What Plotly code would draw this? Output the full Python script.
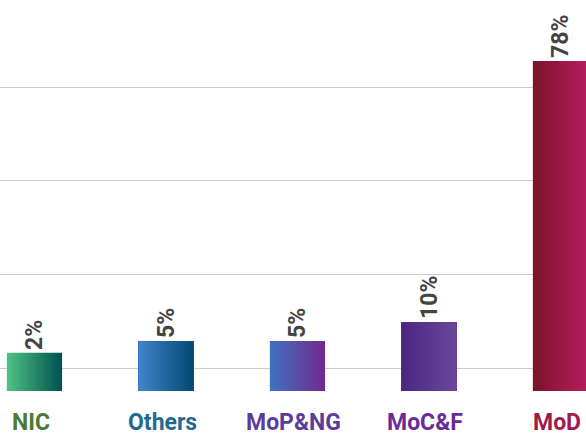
import plotly.graph_objects as go

categories = ["NIC", "Others", "MoP&NG", "MoC&F", "MoD"]
shares = [2, 5, 5, 10, 78]
share_labels = ["2%", "5%", "5%", "10%", "78%"]
label_colors = ["#4a7a36", "#1f6a8f", "#5a3d9b", "#6a2a98", "#a01a4e"]
grad_start = ["#4fc384", "#4285cc", "#3f72c0", "#4a2682", "#7a1428"]
grad_end = ["#005150", "#004870", "#722890", "#6a469a", "#b81c5e"]
mid_colors = ["#27886a", "#21669e", "#584da8", "#5a368e", "#991843"]

BASE = -7.94
W = 0.42
xs = list(range(len(categories)))

fig = go.Figure()
fig.add_trace(go.Bar(
    x=xs, y=[s - BASE for s in shares], base=BASE, width=W,
    marker=dict(color=mid_colors, line=dict(width=0)),
    text=share_labels, textposition="outside", textangle=-90,
    constraintext="none",
    textfont=dict(family="Roboto", size=23, color="#444444", weight=700),
    cliponaxis=False, showlegend=False, hoverinfo="skip",
))
for i, s in enumerate(shares):
    fig.add_trace(go.Scatter(
        x=[i - W / 2, i + W / 2, i + W / 2, i - W / 2, i - W / 2],
        y=[BASE, BASE, s, s, BASE],
        mode="lines", line=dict(width=0), fill="toself",
        fillgradient=dict(type="horizontal",
                          colorscale=[[0, grad_start[i]], [1, grad_end[i]]]),
        showlegend=False, hoverinfo="skip",
    ))

annotations = [
    dict(x=i, y=0, xref="x", yref="paper", text=t, showarrow=False,
         xanchor="center", yanchor="middle", yshift=-31, xshift=-3.5,
         font=dict(family="Roboto", size=23, color=c, weight=700))
    for i, (t, c) in enumerate(zip(categories, label_colors))
]

fig.update_layout(
    width=586, height=437,
    margin=dict(l=0, r=0, t=10, b=46),
    paper_bgcolor="white", plot_bgcolor="white",
    xaxis=dict(range=[-0.262, 4.194], showticklabels=False, automargin=False,
               showgrid=False, zeroline=False, showline=False, ticks=""),
    yaxis=dict(range=[BASE, 91.3], tick0=-2, dtick=24.4, showticklabels=False,
               automargin=False,
               showgrid=True, gridcolor="#cccccc", gridwidth=1,
               zeroline=False, showline=False),
    annotations=annotations,
    bargap=0,
)

fig.write_html("out.html", config={"displayModeBar": False},
               post_script="document.body.style.margin='0';document.body.style.overflow='hidden';")
